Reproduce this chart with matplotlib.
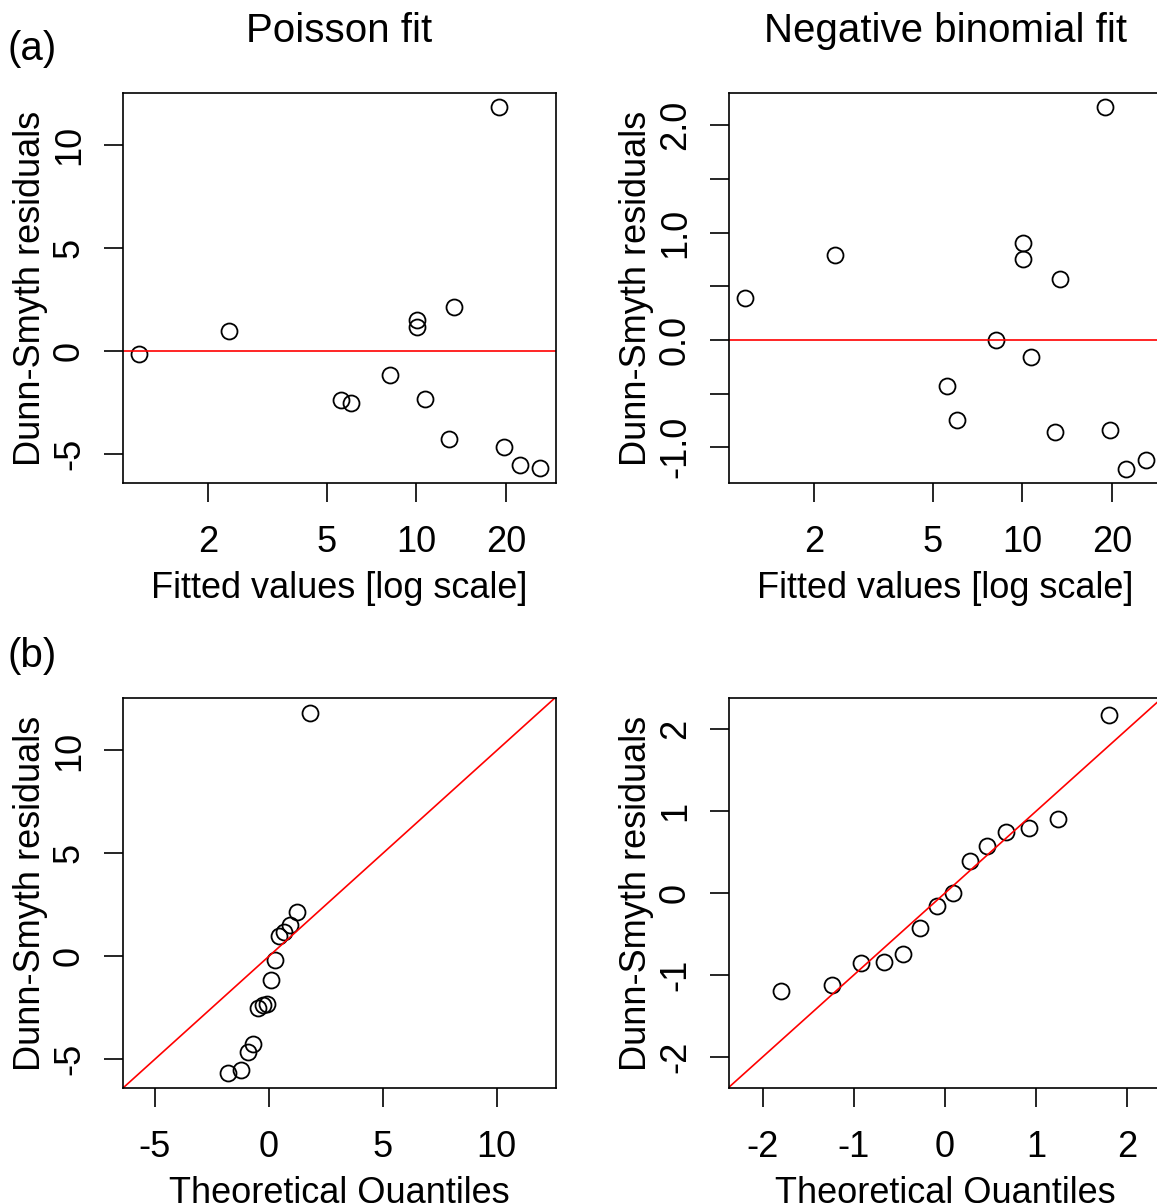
import matplotlib
matplotlib.use("Agg")
import matplotlib.pyplot as plt

plt.rcParams["font.family"] = ["Liberation Sans", "DejaVu Sans"]
plt.rcParams["axes.unicode_minus"] = False

# fitted values (log scale x) and Dunn-Smyth residuals
fitted = [1.17, 2.35, 5.58, 6.03, 8.16, 10.03, 10.08, 10.7, 13.35, 12.85, 18.95, 19.6, 22.2, 26.0]
resid_pois = [-0.16, 0.99, -2.38, -2.51, -1.17, 1.50, 1.17, -2.33, 2.15, -4.27, 11.83, -4.65, -5.52, -5.69]
resid_nb = [0.39, 0.79, -0.43, -0.75, 0.0, 0.90, 0.75, -0.16, 0.57, -0.86, 2.17, -0.84, -1.20, -1.12]

# theoretical normal quantiles for the 14 points
quantiles = [-1.803, -1.242, -0.921, -0.674, -0.464, -0.272, -0.090,
             0.090, 0.272, 0.464, 0.674, 0.921, 1.242, 1.803]

W, H = 1157, 1203
fig = plt.figure(figsize=(W / 100, H / 100), dpi=100)

FS = 26
TFS = 29
MS = 11.5


def box(x0, y0, x1, y1):
    return [x0 / W, 1 - y1 / H, (x1 - x0) / W, (y1 - y0) / H]


def style(ax):
    for s in ax.spines.values():
        s.set_linewidth(1.2)
    ax.tick_params(direction="out", length=14, width=1.2, labelsize=FS)
    ax.tick_params(axis="x", pad=16)
    ax.tick_params(axis="y", pad=12)
    for lab in ax.get_yticklabels():
        lab.set_rotation(90)
        lab.set_va("center")


def pts(ax, x, y):
    ax.plot(x, y, "o", ms=MS, mfc="none", mec="black", mew=1.3, clip_on=False)


def labels(ax, xlab):
    ax.set_xlabel(xlab, fontsize=FS, labelpad=8)
    ax.set_ylabel("Dunn-Smyth residuals", fontsize=FS, labelpad=3)


# (a) residuals vs fitted
ax1 = fig.add_axes(box(123, 93, 556, 483))
ax1.set_xscale("log")
pts(ax1, fitted, resid_pois)
ax1.axhline(0, color="red", lw=1.2)
ax1.set_xlim(1.037, 29.4)
ax1.set_ylim(-6.41, 12.52)
ax1.set_xticks([2, 5, 10, 20])
ax1.set_xticklabels(["2", "5", "10", "20"])
ax1.minorticks_off()
ax1.set_yticks([-5, 0, 5, 10])
ax1.set_yticklabels(["-5", "0", "5", "10"])
style(ax1)
labels(ax1, "Fitted values [log scale]")
ax1.set_title("Poisson fit", fontsize=TFS, pad=37)

ax2 = fig.add_axes(box(729, 93, 1162, 483))
ax2.set_xscale("log")
pts(ax2, fitted, resid_nb)
ax2.axhline(0, color="red", lw=1.2)
ax2.set_xlim(1.037, 29.4)
ax2.set_ylim(-1.333, 2.30)
ax2.set_xticks([2, 5, 10, 20])
ax2.set_xticklabels(["2", "5", "10", "20"])
ax2.minorticks_off()
ax2.set_yticks([-1.0, -0.5, 0.0, 0.5, 1.0, 1.5, 2.0])
ax2.set_yticklabels(["-1.0", "", "0.0", "", "1.0", "", "2.0"])
style(ax2)
labels(ax2, "Fitted values [log scale]")
ax2.set_title("Negative binomial fit", fontsize=TFS, pad=37)

# (b) normal QQ plots
ax3 = fig.add_axes(box(123, 698, 556, 1088))
pts(ax3, quantiles, sorted(resid_pois))
ax3.set_xlim(-6.4, 12.6)
ax3.set_ylim(-6.4, 12.55)
ax3.plot([-20, 20], [-20, 20], color="red", lw=1.2)
ax3.set_xticks([-5, 0, 5, 10])
ax3.set_xticklabels(["-5", "0", "5", "10"])
ax3.set_yticks([-5, 0, 5, 10])
ax3.set_yticklabels(["-5", "0", "5", "10"])
style(ax3)
labels(ax3, "Theoretical Quantiles")

ax4 = fig.add_axes(box(729, 698, 1162, 1088))
pts(ax4, quantiles, sorted(resid_nb))
ax4.set_xlim(-2.37, 2.38)
ax4.set_ylim(-2.38, 2.38)
ax4.plot([-5, 5], [-5, 5], color="red", lw=1.2)
ax4.set_xticks([-2, -1, 0, 1, 2])
ax4.set_xticklabels(["-2", "-1", "0", "1", "2"])
ax4.set_yticks([-2, -1, 0, 1, 2])
ax4.set_yticklabels(["-2", "-1", "0", "1", "2"])
style(ax4)
labels(ax4, "Theoretical Quantiles")

fig.text(7 / W, 1 - 49 / H, "(a)", fontsize=TFS, va="center", ha="left")
fig.text(7 / W, 1 - 656 / H, "(b)", fontsize=TFS, va="center", ha="left")

fig.savefig("out.png", dpi=100)
